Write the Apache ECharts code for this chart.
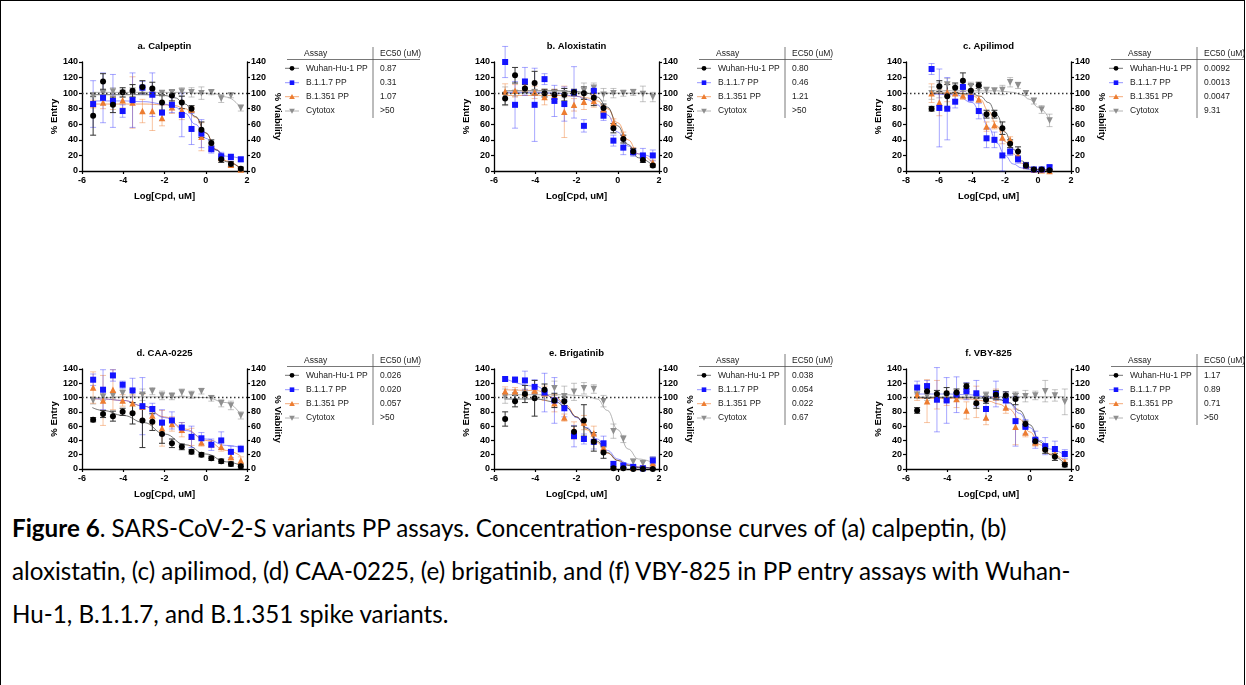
<!DOCTYPE html>
<html>
<head>
<meta charset="utf-8">
<title>Figure 6</title>
<script src="https://cdn.jsdelivr.net/npm/echarts@6/dist/echarts.min.js"></script>
<style>
  html, body { margin: 0; padding: 0; background: #fff; }
  #wrap { position: relative; width: 1246px; height: 685px; overflow: hidden; }
  #frame { position: absolute; left: 0; top: 0; width: 1243px; height: 720px; border: 1px solid #000; }
  #chart { position: absolute; left: 0; top: 0; width: 1246px; height: 500px; }
  #caption { position: absolute; left: 12px; top: 506px; font-family: 'Lato', 'Open Sans', sans-serif; font-size: 24.2px; line-height: 43px; color: #000; }
  #caption div { white-space: nowrap; }
</style>
</head>
<body>
<div id="wrap">
  <div id="frame"></div>
  <div id="chart"></div>
  <div id="caption">
    <div><b>Figure 6</b>. SARS-CoV-2-S variants PP assays. Concentration-response curves of (a) calpeptin, (b)</div>
    <div>aloxistatin, (c) apilimod, (d) CAA-0225, (e) brigatinib, and (f) VBY-825 in PP entry assays with Wuhan-</div>
    <div>Hu-1, B.1.1.7, and B.1.351 spike variants.</div>
  </div>
</div>
<script>
// log10 concentrations (uM), 3-fold dilutions
var logConc = [-5.46, -4.98, -4.50, -4.03, -3.55, -3.07, -2.59, -2.12, -1.64, -1.16, -0.69, -0.21, 0.27, 0.75, 1.22, 1.70];
var logConcApilimod = [-6.45, -5.98, -5.50, -5.02, -4.55, -4.07, -3.59, -3.12, -2.64, -2.16, -1.69, -1.21, -0.73, -0.25, 0.22, 0.70];

var assayNames = ['Wuhan-Hu-1 PP', 'B.1.1.7 PP', 'B.1.351 PP', 'Cytotox'];
var panelTitles = ['a. Calpeptin', 'b. Aloxistatin', 'c. Apilimod', 'd. CAA-0225', 'e. Brigatinib', 'f. VBY-825'];

// a. Calpeptin
var calpeptinWuhan = [71, 115, 85, 101, 103, 108, 106, 88, 97, 88, 80, 53, 36, 15, 9, 3];
var calpeptinB117 = [86, 94, 90, 77, 91, 107, 98, 75, 85, 72, 54, 48, 28, 19, 18, 15];
var calpeptinB1351 = [86, 88, 87, 91, 88, 77, 77, 68, 82, 78, 79, 44, 30, 17, 8, 2];
var calpeptinCyto = [97, 100, 102, 100, 103, 104, 101, 100, 101, 102, 101, 100, 101, 93, 97, 81];
var calpeptinWuhanErr = [25, 10, 10, 6, 8, 8, 8, 10, 7, 8, 4, 10, 4, 4, 3, 2];
var calpeptinB117Err = [30, 32, 34, 8, 35, 8, 28, 10, 10, 28, 20, 18, 5, 5, 4, 3];
var calpeptinB1351Err = [5, 8, 8, 10, 33, 15, 25, 10, 8, 12, 3, 18, 5, 4, 3, 2];
var calpeptinCytoErr = [3, 4, 5, 5, 8, 3, 6, 4, 3, 5, 6, 8, 3, 5, 3, 4];
var calpeptinEc50 = ['0.87', '0.31', '1.07', '>50'];

// b. Aloxistatin
var aloxistatinWuhan = [93, 123, 106, 113, 100, 98, 98, 101, 100, 94, 81, 55, 41, 25, 14, 7];
var aloxistatinB117 = [140, 85, 115, 85, 118, 90, 86, 101, 58, 103, 71, 39, 30, 24, 20, 20];
var aloxistatinB1351 = [102, 103, 108, 101, 95, 97, 76, 85, 89, 90, 79, 62, 45, 26, 17, 11];
var aloxistatinCyto = [96, 100, 104, 101, 100, 100, 100, 100, 103, 107, 98, 100, 100, 101, 99, 95];
var aloxistatinWuhanErr = [8, 10, 5, 15, 5, 6, 8, 4, 8, 10, 5, 6, 5, 4, 3, 2];
var aloxistatinB117Err = [20, 30, 18, 47, 7, 20, 22, 33, 8, 6, 6, 7, 9, 5, 9, 7];
var aloxistatinB1351Err = [10, 8, 6, 8, 10, 8, 33, 8, 10, 8, 5, 5, 5, 4, 3, 3];
var aloxistatinCytoErr = [12, 4, 3, 4, 4, 5, 6, 4, 10, 6, 8, 6, 4, 4, 10, 6];
var aloxistatinEc50 = ['0.80', '0.46', '1.21', '>50'];

// c. Apilimod
var apilimodWuhan = [80, 109, 96, 107, 116, 103, 110, 73, 73, 55, 35, 25, 7, 2, 2, 1];
var apilimodB117 = [131, 81, 80, 89, 108, 94, 77, 42, 40, 20, 25, 15, 7, 2, 2, 5];
var apilimodB1351 = [100, 88, 101, 100, 97, 99, 92, 57, 59, 43, 40, 20, 7, 2, 1, 0];
var apilimodCyto = [100, 104, 111, 105, 104, 109, 105, 104, 103, 104, 114, 110, 100, 90, 79, 65];
var apilimodWuhanErr = [3, 7, 15, 6, 10, 8, 4, 5, 5, 8, 5, 6, 4, 2, 1, 1];
var apilimodB117Err = [7, 50, 40, 8, 6, 5, 10, 12, 10, 20, 5, 5, 3, 2, 2, 2];
var apilimodB1351Err = [12, 17, 12, 8, 5, 6, 4, 6, 5, 8, 4, 5, 3, 2, 1, 1];
var apilimodCytoErr = [8, 10, 8, 6, 6, 5, 4, 3, 4, 6, 6, 4, 3, 4, 5, 8];
var apilimodEc50 = ['0.0092', '0.0013', '0.0047', '9.31'];

// d. CAA-0225
var caaWuhan = [69, 77, 74, 80, 78, 68, 66, 49, 36, 31, 24, 20, 15, 11, 7, 4];
var caaB117 = [125, 111, 131, 118, 110, 88, 84, 65, 68, 58, 45, 43, 34, 40, 24, 28];
var caaB1351 = [114, 96, 111, 96, 92, 87, 75, 57, 63, 55, 45, 37, 35, 31, 17, 12];
var caaCyto = [96, 101, 103, 106, 107, 104, 109, 103, 102, 107, 104, 109, 99, 92, 89, 75];
var caaWuhanErr = [3, 5, 7, 5, 15, 38, 12, 13, 6, 4, 3, 3, 3, 3, 3, 3];
var caaB117Err = [8, 28, 8, 5, 17, 40, 8, 18, 12, 7, 15, 8, 8, 12, 8, 5];
var caaB1351Err = [22, 35, 28, 8, 12, 18, 12, 25, 10, 10, 12, 5, 5, 6, 5, 5];
var caaCytoErr = [5, 5, 5, 5, 5, 8, 5, 6, 5, 5, 5, 4, 4, 5, 6, 5];
var caaEc50 = ['0.026', '0.020', '0.057', '>50'];

// e. Brigatinib
var brigatinibWuhan = [70, 95, 105, 99, 111, 96, 95, 52, 68, 38, 23, 1, 1, 0, 0, 0];
var brigatinibB117 = [126, 125, 124, 115, 107, 96, 85, 46, 42, 38, 36, 7, 5, 3, 1, 12];
var brigatinibB1351 = [109, 109, 107, 110, 106, 92, 72, 54, 65, 50, 30, 4, 3, 2, 2, 8];
var brigatinibCyto = [102, 103, 104, 103, 104, 113, 102, 108, 113, 112, 95, 53, 42, 10, 8, 12];
var brigatinibWuhanErr = [10, 8, 12, 25, 8, 10, 6, 8, 22, 13, 8, 2, 1, 1, 1, 1];
var brigatinibB117Err = [3, 4, 13, 10, 27, 32, 12, 15, 7, 10, 10, 4, 3, 2, 2, 5];
var brigatinibB1351Err = [6, 5, 5, 5, 10, 12, 5, 12, 10, 10, 5, 3, 3, 2, 2, 3];
var brigatinibCytoErr = [10, 8, 6, 5, 6, 10, 14, 12, 8, 6, 8, 10, 5, 4, 3, 5];
var brigatinibEc50 = ['0.038', '0.054', '0.022', '0.67'];

// f. VBY-825
var vbyWuhan = [82, 109, 105, 106, 107, 116, 92, 97, 104, 103, 98, 63, 39, 27, 17, 6];
var vbyB117 = [114, 116, 97, 96, 104, 109, 106, 84, 105, 96, 67, 59, 41, 32, 28, 21];
var vbyB1351 = [104, 95, 104, 99, 98, 82, 94, 72, 104, 86, 59, 51, 37, 30, 21, 10];
var vbyCyto = [104, 102, 101, 100, 101, 104, 100, 103, 102, 101, 102, 102, 103, 109, 103, 94];
var vbyWuhanErr = [4, 10, 5, 8, 5, 4, 7, 5, 6, 5, 8, 4, 4, 5, 5, 3];
var vbyB117Err = [9, 8, 45, 32, 25, 12, 18, 15, 18, 12, 35, 10, 12, 12, 11, 6];
var vbyB1351Err = [8, 30, 20, 10, 12, 12, 22, 10, 8, 8, 25, 6, 5, 5, 4, 3];
var vbyCytoErr = [5, 6, 5, 6, 6, 5, 5, 5, 6, 4, 6, 8, 6, 15, 8, 18];
var vbyEc50 = ['1.17', '0.89', '0.71', '>50'];

// fitted curves
var fitX = [-5.5, -4, -3, -2, -1.5, -1, -0.5, 0, 0.5, 1, 1.7];
var fitXApilimod = [-6.5, -5, -4, -3.5, -3, -2.5, -2, -1.5, -1, -0.5, 0, 0.7];
var fitXCaa = [-5.5, -5, -4, -3, -2, -1, 0, 1, 1.7];
var fitXBrigatinib = [-5.5, -4, -3, -2.5, -2, -1.5, -1, -0.5, 0, 0.5, 1, 1.7];

var calpeptinWuhanFit = [98, 98, 98, 97, 94, 86, 70, 49, 27, 12, 3];
var calpeptinB117Fit = [90, 90, 89, 86, 82, 74, 60, 42, 27, 19, 16];
var calpeptinB1351Fit = [86, 86, 86, 85, 84, 80, 69, 49, 28, 13, 3];
var calpeptinCytoFit = [101, 101, 101, 101, 101, 101, 100, 100, 99, 95, 81];

var aloxistatinWuhanFit = [103, 103, 103, 102, 100, 95, 82, 58, 34, 17, 7];
var aloxistatinB117Fit = [101, 101, 100, 96, 92, 85, 72, 50, 32, 22, 17];
var aloxistatinB1351Fit = [97, 97, 97, 96, 94, 90, 80, 62, 40, 22, 10];
var aloxistatinCytoFit = [100, 100, 100, 100, 100, 100, 100, 100, 100, 100, 99];

var apilimodWuhanFit = [100, 100, 99, 96, 88, 72, 50, 28, 13, 5, 2, 1];
var apilimodB117Fit = [99, 98, 88, 76, 56, 36, 20, 9, 4, 2, 1, 1];
var apilimodB1351Fit = [100, 100, 97, 92, 77, 58, 38, 22, 10, 4, 2, 1];
var apilimodCytoFit = [103, 103, 103, 103, 103, 103, 102, 101, 98, 92, 82, 66];

var caaWuhanFit = [86, 82, 75, 65, 49, 34, 21, 10, 5];
var caaB117Fit = [99, 98, 96, 88, 72, 54, 42, 33, 30];
var caaB1351Fit = [98, 98, 96, 88, 73, 56, 40, 26, 18];
var caaCytoFit = [100, 100, 101, 101, 101, 101, 100, 93, 76];

var brigatinibWuhanFit = [98, 98, 94, 86, 73, 57, 39, 23, 12, 5, 2, 1];
var brigatinibB117Fit = [127, 116, 98, 86, 72, 58, 42, 26, 14, 7, 3, 1];
var brigatinibB1351Fit = [111, 110, 100, 89, 73, 55, 37, 22, 12, 6, 3, 1];
var brigatinibCytoFit = [104, 104, 104, 104, 103, 102, 98, 82, 55, 28, 14, 9];

var vbyWuhanFit = [100, 100, 100, 99, 97, 93, 82, 62, 38, 20, 7];
var vbyB117Fit = [105, 105, 104, 101, 98, 92, 78, 58, 40, 28, 19];
var vbyB1351Fit = [99, 99, 98, 95, 91, 84, 70, 52, 34, 21, 11];
var vbyCytoFit = [101, 101, 101, 101, 101, 101, 101, 101, 101, 101, 101];

var panels = [
  { xs: logConc, xmin: -6, fx: fitX, ec50: calpeptinEc50,
    pts: [calpeptinWuhan, calpeptinB117, calpeptinB1351, calpeptinCyto],
    err: [calpeptinWuhanErr, calpeptinB117Err, calpeptinB1351Err, calpeptinCytoErr],
    fit: [calpeptinWuhanFit, calpeptinB117Fit, calpeptinB1351Fit, calpeptinCytoFit] },
  { xs: logConc, xmin: -6, fx: fitX, ec50: aloxistatinEc50,
    pts: [aloxistatinWuhan, aloxistatinB117, aloxistatinB1351, aloxistatinCyto],
    err: [aloxistatinWuhanErr, aloxistatinB117Err, aloxistatinB1351Err, aloxistatinCytoErr],
    fit: [aloxistatinWuhanFit, aloxistatinB117Fit, aloxistatinB1351Fit, aloxistatinCytoFit] },
  { xs: logConcApilimod, xmin: -8, fx: fitXApilimod, ec50: apilimodEc50,
    pts: [apilimodWuhan, apilimodB117, apilimodB1351, apilimodCyto],
    err: [apilimodWuhanErr, apilimodB117Err, apilimodB1351Err, apilimodCytoErr],
    fit: [apilimodWuhanFit, apilimodB117Fit, apilimodB1351Fit, apilimodCytoFit] },
  { xs: logConc, xmin: -6, fx: fitXCaa, ec50: caaEc50,
    pts: [caaWuhan, caaB117, caaB1351, caaCyto],
    err: [caaWuhanErr, caaB117Err, caaB1351Err, caaCytoErr],
    fit: [caaWuhanFit, caaB117Fit, caaB1351Fit, caaCytoFit] },
  { xs: logConc, xmin: -6, fx: fitXBrigatinib, ec50: brigatinibEc50,
    pts: [brigatinibWuhan, brigatinibB117, brigatinibB1351, brigatinibCyto],
    err: [brigatinibWuhanErr, brigatinibB117Err, brigatinibB1351Err, brigatinibCytoErr],
    fit: [brigatinibWuhanFit, brigatinibB117Fit, brigatinibB1351Fit, brigatinibCytoFit] },
  { xs: logConc, xmin: -6, fx: fitX, ec50: vbyEc50,
    pts: [vbyWuhan, vbyB117, vbyB1351, vbyCyto],
    err: [vbyWuhanErr, vbyB117Err, vbyB1351Err, vbyCytoErr],
    fit: [vbyWuhanFit, vbyB117Fit, vbyB1351Fit, vbyCytoFit] }
];

// styling per assay: Wuhan, B.1.1.7, B.1.351, Cytotox
var markColors = ['#000000', '#1414ff', '#ed7d31', '#8f8f8f'];
var barColors = ['#333333', 'rgba(60,60,255,0.45)', 'rgba(237,125,49,0.45)', 'rgba(140,140,140,0.5)'];
var fitColors = ['rgba(0,0,0,0.55)', 'rgba(60,60,255,0.55)', 'rgba(237,125,49,0.65)', 'rgba(150,150,150,0.7)'];
var symbols = ['circle', 'rect', 'triangle', 'triangle'];
var symbolRot = [0, 0, 0, 180];
var symbolSizes = [6, 6, 6.5, 6.5];

var gridLefts = [82, 494, 906];
var gridTops = [62, 369];
var gridW = 165, gridH = 109;
var FONT = 'Liberation Sans';

function errBars(gi, xs, ys, es, color) {
  return {
    type: 'custom', xAxisIndex: gi, yAxisIndex: gi * 2, z: 2, silent: true,
    encode: { x: 0, y: 1 },
    data: xs.map(function (x, k) { return [x, ys[k], es[k]]; }),
    renderItem: function (params, api) {
      var x = api.value(0), y = api.value(1), e = api.value(2);
      var hi = api.coord([x, y + e]);
      var lo = api.coord([x, Math.max(0, y - e)]);
      var w = 3;
      var st = { stroke: color, lineWidth: 1 };
      return { type: 'group', children: [
        { type: 'line', shape: { x1: hi[0], y1: hi[1], x2: lo[0], y2: lo[1] }, style: st },
        { type: 'line', shape: { x1: hi[0] - w, y1: hi[1], x2: hi[0] + w, y2: hi[1] }, style: st },
        { type: 'line', shape: { x1: lo[0] - w, y1: lo[1], x2: lo[0] + w, y2: lo[1] }, style: st }
      ] };
    }
  };
}

var grids = [], xAxes = [], yAxes = [], series = [], graphics = [];
var axisLabelStyle = { fontFamily: FONT, fontWeight: 'bold', fontSize: 9, color: '#000' };
var axisNameStyle = { fontFamily: FONT, fontWeight: 'bold', fontSize: 9.5, color: '#000' };

panels.forEach(function (p, gi) {
  var L = gridLefts[gi % 3], T = gridTops[Math.floor(gi / 3)];
  grids.push({ left: L, top: T, width: gridW, height: gridH });
  xAxes.push({
    type: 'value', gridIndex: gi, min: p.xmin, max: 2, interval: 2,
    name: 'Log[Cpd, uM]', nameLocation: 'middle', nameGap: 20, nameTextStyle: axisNameStyle,
    axisLine: { onZero: false, lineStyle: { color: '#000', width: 1.3 } },
    axisTick: { length: 3, lineStyle: { color: '#000', width: 1.2 } },
    axisLabel: Object.assign({ margin: 5 }, axisLabelStyle),
    splitLine: { show: false }
  });
  [0, 1].forEach(function (side) {
    yAxes.push({
      type: 'value', gridIndex: gi, min: 0, max: 140, interval: 20,
      position: side ? 'right' : 'left',
      name: side ? '% Viability' : '% Entry', nameLocation: 'middle',
      nameGap: side ? 26 : 23, nameRotate: side ? -90 : 90, nameTextStyle: axisNameStyle,
      axisLine: { show: true, onZero: false, lineStyle: { color: '#000', width: 1.3 } },
      axisTick: { show: true, length: 3, lineStyle: { color: '#000', width: 1.2 } },
      axisLabel: Object.assign({ margin: 4 }, axisLabelStyle),
      splitLine: { show: false }
    });
  });

  // fitted curves
  for (var s = 3; s >= 0; s--) {
    series.push({
      type: 'line', xAxisIndex: gi, yAxisIndex: gi * 2, z: 1, silent: true,
      smooth: 0.45, smoothMonotone: 'x', symbol: 'none',
      lineStyle: { color: fitColors[s], width: 1 },
      data: p.fx.map(function (x, k) { return [x, p.fit[s][k]]; })
    });
  }
  // error bars
  for (var s2 = 3; s2 >= 0; s2--) {
    series.push(errBars(gi, p.xs, p.pts[s2], p.err[s2], barColors[s2]));
  }
  // points
  for (var s3 = 3; s3 >= 0; s3--) {
    var ser = {
      type: 'scatter', name: assayNames[s3], xAxisIndex: gi, yAxisIndex: gi * 2, z: 3,
      symbol: symbols[s3], symbolRotate: symbolRot[s3], symbolSize: symbolSizes[s3],
      itemStyle: { color: markColors[s3], opacity: 1 },
      data: p.xs.map(function (x, k) { return [x, p.pts[s3][k]]; })
    };
    if (s3 === 3) {
      ser.markLine = {
        silent: true, symbol: ['none', 'none'], label: { show: false },
        lineStyle: { color: '#333', type: [1.5, 2.5], width: 1.3 },
        data: [{ yAxis: 100 }]
      };
    }
    series.push(ser);
  }

  // panel title
  graphics.push({
    type: 'text', x: L + gridW / 2, y: T - 16,
    style: { text: panelTitles[gi], font: 'bold 9.5px ' + FONT, fill: '#000', align: 'center', verticalAlign: 'middle' }
  });

  // legend table
  var txt = function (t, x, y) {
    return { type: 'text', x: x, y: y, style: { text: t, font: '8.5px ' + FONT, fill: '#222', align: 'left', verticalAlign: 'middle' } };
  };
  graphics.push(txt('Assay', L + 222, T - 8));
  graphics.push(txt('EC50 (uM)', L + 298, T - 8));
  graphics.push({ type: 'line', shape: { x1: L + 205, y1: T - 2.5, x2: L + 338, y2: T - 2.5 }, style: { stroke: '#555', lineWidth: 0.8 } });
  graphics.push({ type: 'line', shape: { x1: L + 291, y1: T - 15, x2: L + 291, y2: T + 56 }, style: { stroke: '#555', lineWidth: 0.8 } });
  var rowY = [6.3, 20.7, 34.7, 49];
  for (var r = 0; r < 4; r++) {
    var cy = T + rowY[r], cx = L + 210;
    graphics.push({ type: 'line', shape: { x1: L + 203, y1: cy, x2: L + 217, y2: cy }, style: { stroke: fitColors[r], lineWidth: 1 } });
    var mk;
    if (r === 0) mk = { type: 'circle', shape: { cx: cx, cy: cy, r: 2.4 } };
    else if (r === 1) mk = { type: 'rect', shape: { x: cx - 2.3, y: cy - 2.3, width: 4.6, height: 4.6 } };
    else if (r === 2) mk = { type: 'polygon', shape: { points: [[cx, cy - 2.8], [cx + 2.8, cy + 2.2], [cx - 2.8, cy + 2.2]] } };
    else mk = { type: 'polygon', shape: { points: [[cx, cy + 2.8], [cx + 2.8, cy - 2.2], [cx - 2.8, cy - 2.2]] } };
    mk.style = { fill: markColors[r] };
    graphics.push(mk);
    graphics.push(txt(assayNames[r], L + 224, cy));
    graphics.push(txt(p.ec50[r], L + 298, cy));
  }
});

var chart = echarts.init(document.getElementById('chart'), null, { renderer: 'canvas' });
chart.setOption({
  animation: false,
  backgroundColor: 'transparent',
  grid: grids,
  xAxis: xAxes,
  yAxis: yAxes,
  series: series,
  graphic: graphics
});
</script>
</body>
</html>
